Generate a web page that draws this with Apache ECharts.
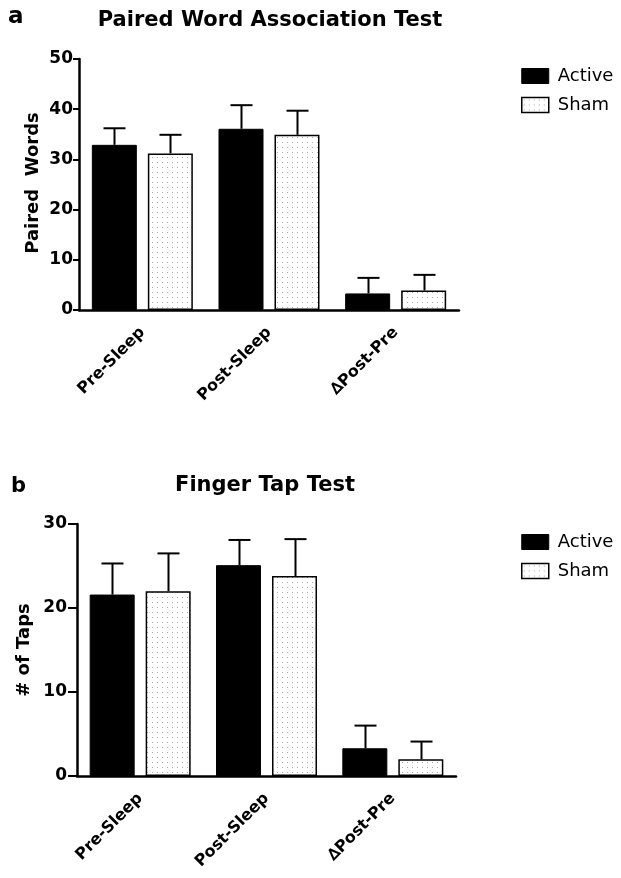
<!DOCTYPE html>
<html>
<head>
<meta charset="utf-8">
<style>
  html, body { margin: 0; padding: 0; background: #fff; }
  #chart { width: 621px; height: 878px; }
</style>
<script src="https://cdn.jsdelivr.net/npm/echarts@6/dist/echarts.min.js"></script>
</head>
<body>
<div id="chart"></div>
<script>
// ---- data ----
var categories = ['Pre-Sleep', 'Post-Sleep', '\u2206Post-Pre'];
var seriesNames = ['Active', 'Sham'];

// Panel a: Paired Word Association Test
var activeA = [32.9, 36.1, 3.3];
var activeAErr = [3.3, 4.7, 3.1];
var shamA = [31.2, 34.9, 3.9];
var shamAErr = [3.7, 4.8, 3.1];
var ticksA = [0, 10, 20, 30, 40, 50];

// Panel b: Finger Tap Test
var activeB = [21.6, 25.1, 3.3];
var activeBErr = [3.7, 3.0, 2.7];
var shamB = [22.0, 23.8, 2.0];
var shamBErr = [4.5, 4.4, 2.1];
var ticksB = [0, 10, 20, 30];

var titleA = 'Paired Word Association Test';
var titleB = 'Finger Tap Test';
var yNameA = 'Paired  Words';
var yNameB = '# of Taps';

// ---- styling ----
var FONT = 'DejaVu Sans';
var BAR_W = 45, BAR_GAP = 11;
var OFF = (BAR_W + BAR_GAP) / 2;

var pc = document.createElement('canvas');
pc.width = 5; pc.height = 5;
var pctx = pc.getContext('2d');
pctx.fillStyle = '#ffffff'; pctx.fillRect(0, 0, 5, 5);
pctx.fillStyle = '#a8a8a8'; pctx.fillRect(2, 2, 1, 1);
var dotFill = { image: pc, repeat: 'repeat' };

var activeStyle = { color: '#000', borderColor: '#000', borderWidth: 1 };
var shamStyle = { color: dotFill, borderColor: '#000', borderWidth: 1.5 };

function errData(vals, errs) {
  return vals.map(function (v, i) { return [i, v, v + errs[i]]; });
}
function errRender(offset) {
  return function (params, api) {
    var p0 = api.coord([api.value(0), api.value(1)]);
    var p1 = api.coord([api.value(0), api.value(2)]);
    var cx = Math.round(p0[0] + offset) + 0.5;
    var st = { stroke: '#000', lineWidth: 2 };
    return {
      type: 'group',
      children: [
        { type: 'line', shape: { x1: cx, y1: p0[1], x2: cx, y2: p1[1] }, style: st },
        { type: 'line', shape: { x1: cx - 11, y1: p1[1], x2: cx + 11, y2: p1[1] }, style: st }
      ]
    };
  };
}

function xAxisCfg(idx) {
  return {
    type: 'category', gridIndex: idx, data: categories,
    axisLine: { lineStyle: { color: '#000', width: 2.5 } },
    axisTick: { alignWithLabel: true, length: 7, lineStyle: { color: '#000', width: 2.5 } },
    axisLabel: { rotate: 45, margin: 20, color: '#000', fontFamily: FONT, fontWeight: 'bold', fontSize: 16, interval: 0 },
    splitLine: { show: false }
  };
}
function yAxisCfg(idx, ticks, tickLen, margin) {
  return {
    type: 'value', gridIndex: idx, min: ticks[0], max: ticks[ticks.length - 1],
    interval: ticks[1] - ticks[0],
    axisLine: { show: true, lineStyle: { color: '#000', width: 2.5 } },
    axisTick: { show: true, length: tickLen, lineStyle: { color: '#000', width: 2 } },
    axisLabel: { margin: margin, color: '#000', fontFamily: FONT, fontWeight: 'bold', fontSize: 17 },
    splitLine: { show: false }
  };
}
function barSeries(name, data, style, xi) {
  return {
    type: 'bar', name: name, data: data, xAxisIndex: xi, yAxisIndex: xi,
    barWidth: BAR_W, barGap: (BAR_GAP / BAR_W * 100) + '%',
    itemStyle: style, z: 2
  };
}
function errSeries(vals, errs, offset, xi) {
  return {
    type: 'custom', data: errData(vals, errs), xAxisIndex: xi, yAxisIndex: xi,
    renderItem: errRender(offset), z: 3, silent: true,
    encode: { x: 0, y: [1, 2] }
  };
}
function legendCfg(top) {
  return {
    left: 516, top: top, orient: 'vertical', itemWidth: 27, itemHeight: 15, itemGap: 11,
    icon: 'rect', selectedMode: false,
    textStyle: { fontFamily: FONT, fontSize: 18, color: '#000', padding: [0, 0, 0, 4] },
    data: [
      { name: 'Active', itemStyle: activeStyle },
      { name: 'Sham', itemStyle: shamStyle }
    ]
  };
}

var chart = echarts.init(document.getElementById('chart'), null, { renderer: 'canvas' });
chart.setOption({
  backgroundColor: '#fff',
  animation: false,
  grid: [
    { left: 79, top: 59, width: 380, height: 251 },
    { left: 77, top: 524, width: 379, height: 252 }
  ],
  xAxis: [xAxisCfg(0), xAxisCfg(1)],
  yAxis: [yAxisCfg(0, ticksA, 6, 6), yAxisCfg(1, ticksB, 9, 10)],
  legend: [legendCfg(62), legendCfg(528)],
  series: [
    barSeries(seriesNames[0], activeA, activeStyle, 0),
    barSeries(seriesNames[1], shamA, shamStyle, 0),
    errSeries(activeA, activeAErr, -OFF, 0),
    errSeries(shamA, shamAErr, OFF, 0),
    barSeries(seriesNames[0], activeB, activeStyle, 1),
    barSeries(seriesNames[1], shamB, shamStyle, 1),
    errSeries(activeB, activeBErr, -OFF, 1),
    errSeries(shamB, shamBErr, OFF, 1)
  ],
  graphic: [
    { type: 'text', left: 8, top: 6, style: { text: 'a', font: 'bold 23px "DejaVu Sans"', fill: '#000' } },
    { type: 'text', x: 270, y: 21, style: { text: titleA, font: 'bold 21px "DejaVu Sans"', fill: '#000', align: 'center', verticalAlign: 'middle' } },
    { type: 'text', x: 33, y: 183, rotation: Math.PI / 2, style: { text: yNameA, font: 'bold 18px "DejaVu Sans"', fill: '#000', align: 'center', verticalAlign: 'middle' } },
    { type: 'text', left: 11, top: 476, style: { text: 'b', font: 'bold 21px "DejaVu Sans"', fill: '#000' } },
    { type: 'text', x: 265, y: 486, style: { text: titleB, font: 'bold 21px "DejaVu Sans"', fill: '#000', align: 'center', verticalAlign: 'middle' } },
    { type: 'text', x: 24, y: 650, rotation: Math.PI / 2, style: { text: yNameB, font: 'bold 18px "DejaVu Sans"', fill: '#000', align: 'center', verticalAlign: 'middle' } }
  ]
});
</script>
</body>
</html>
